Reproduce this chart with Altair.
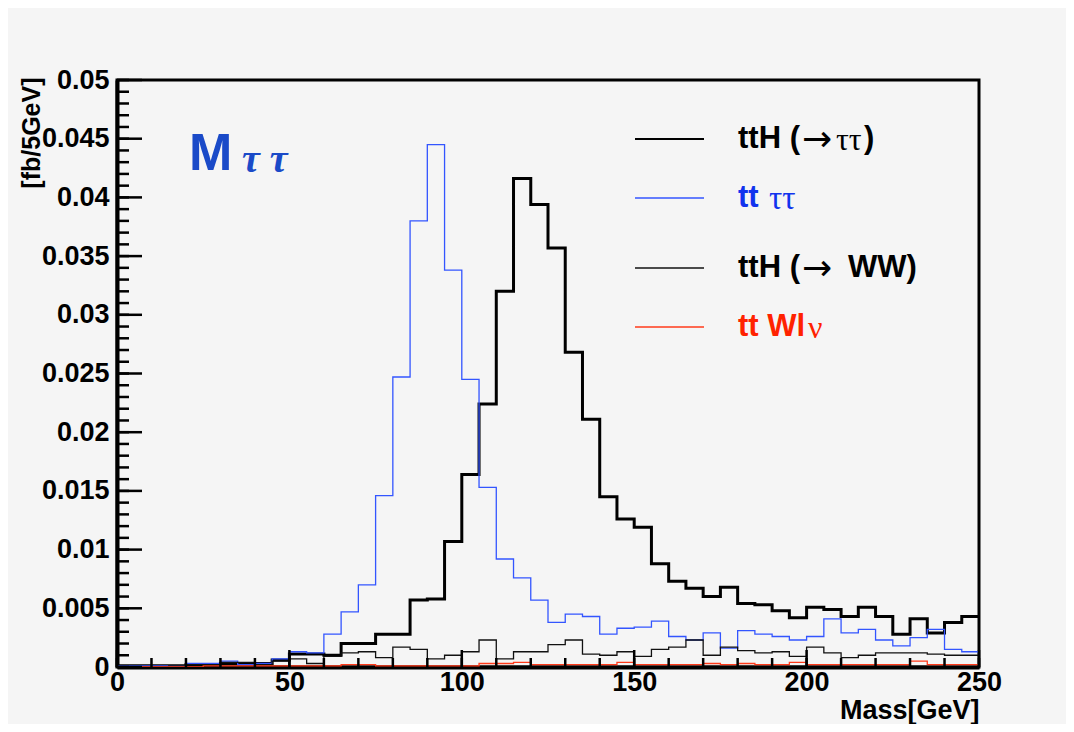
import altair as alt
import pandas as pd

# ---------------- data (5 GeV bins, 0..250 GeV) ----------------
bin_lo = list(range(0, 250, 5))

tth_tautau = [0.0001, 0.0001, 0.0001, 0.0001, 0.0002, 0.0002, 0.0003, 0.0003, 0.0003, 0.0006,
              0.0011, 0.0011, 0.0010, 0.0020, 0.0020, 0.0028, 0.0028, 0.0057, 0.0058, 0.0107,
              0.0164, 0.0224, 0.0320, 0.0416, 0.0394, 0.0357, 0.0268, 0.0211, 0.0145, 0.0126,
              0.0119, 0.0088, 0.0073, 0.0067, 0.0060, 0.0068, 0.0054, 0.0053, 0.0048, 0.0042,
              0.0051, 0.0049, 0.0043, 0.0051, 0.0043, 0.0028, 0.0041, 0.0029, 0.0038, 0.0043]

tt_tautau = [0.0001, 0.0001, 0.0001, 0.0001, 0.0003, 0.0003, 0.0005, 0.0002, 0.0003, 0.0007,
             0.0013, 0.0012, 0.0028, 0.0047, 0.0070, 0.0146, 0.0247, 0.0380, 0.0445, 0.0338,
             0.0245, 0.0153, 0.0092, 0.0076, 0.0057, 0.0038, 0.0045, 0.0043, 0.0028, 0.0033,
             0.0034, 0.0039, 0.0026, 0.0023, 0.0029, 0.0016, 0.0031, 0.0028, 0.0026, 0.0023,
             0.0026, 0.0041, 0.0029, 0.0032, 0.0023, 0.0018, 0.0025, 0.0032, 0.0015, 0.0013]

tth_ww = [0.0000, 0.0000, 0.0000, 0.0001, 0.0002, 0.0002, 0.0004, 0.0004, 0.0002, 0.0005,
          0.0007, 0.0003, 0.0009, 0.0012, 0.0013, 0.0008, 0.0017, 0.0015, 0.0007, 0.0010,
          0.0013, 0.0023, 0.0007, 0.0013, 0.0013, 0.0019, 0.0023, 0.0011, 0.0010, 0.0013,
          0.0009, 0.0015, 0.0017, 0.0023, 0.0010, 0.0017, 0.0014, 0.0012, 0.0013, 0.0009,
          0.0017, 0.0012, 0.0008, 0.0010, 0.0012, 0.0012, 0.0012, 0.0011, 0.0010, 0.0010]

tt_wlnu = [0.0000, 0.0000, 0.0000, 0.0000, 0.0000, 0.0001, 0.0001, 0.0001, 0.0001, 0.0001,
           0.0001, 0.0001, 0.0001, 0.0002, 0.0002, 0.0001, 0.0001, 0.0001, 0.0001, 0.0001,
           0.0001, 0.0003, 0.0003, 0.0004, 0.0002, 0.0002, 0.0002, 0.0002, 0.0002, 0.0004,
           0.0002, 0.0002, 0.0002, 0.0002, 0.0003, 0.0002, 0.0003, 0.0002, 0.0002, 0.0004,
           0.0002, 0.0002, 0.0002, 0.0002, 0.0002, 0.0002, 0.0005, 0.0002, 0.0002, 0.0002]

x_major = [0, 50, 100, 150, 200, 250]
x_minor = list(range(0, 251, 10))
y_major = [0, 0.005, 0.01, 0.015, 0.02, 0.025, 0.03, 0.035, 0.04, 0.045, 0.05]
y_minor = [round(0.001 * i, 3) for i in range(0, 51)]

x_title = "Mass[GeV]"
y_title = "[fb/5GeV]"

# ---------------- layout ----------------
W, H = 862, 587
SANS = "Liberation Sans"
SERIF = "Liberation Serif"

xscale = alt.Scale(domain=[0, 250], nice=False, zero=False)
yscale = alt.Scale(domain=[0, 0.05], nice=False)

XAXIS = alt.Axis(
    values=x_major, ticks=False, grid=False, domain=True, domainColor="black",
    domainWidth=4, labelFont=SANS, labelFontWeight="bold", labelFontSize=27,
    labelColor="black", labelPadding=2, labelFlush=False,
    title=x_title, titleFont=SANS, titleFontWeight="bold", titleFontSize=27,
    titleColor="black", titleX=W, titleY=51, titleAlign="right",
    titleBaseline="alphabetic", titleAnchor="end")
YAXIS = alt.Axis(
    values=y_major, format="~g", ticks=False, grid=False, domain=True,
    domainColor="black", domainWidth=4, labelFont=SANS, labelFontWeight="bold",
    labelFontSize=27, labelColor="black", labelPadding=8, labelFlush=False,
    title=y_title, titleFont=SANS, titleFontWeight="bold", titleFontSize=25,
    titleColor="black", titleX=-86, titleY=-3, titleAngle=270,
    titleAlign="right", titleBaseline="middle")


def step_df(vals):
    return pd.DataFrame({"mass": bin_lo + [250], "val": vals + [vals[-1]]})


def hist(vals, color, width):
    return alt.Chart(step_df(vals)).mark_line(
        interpolate="step-after", color=color, strokeWidth=width,
        strokeJoin="miter", clip=True).encode(
        x=alt.X("mass:Q", scale=xscale, axis=XAXIS),
        y=alt.Y("val:Q", scale=yscale, axis=YAXIS))


def xticks(vals, length):
    return alt.Chart(pd.DataFrame({"mass": vals})).mark_rule(
        color="black", strokeWidth=2.5).encode(
        x=alt.X("mass:Q", scale=xscale, axis=XAXIS), y=alt.value(H), y2=alt.value(H - length))


def yticks(vals, length):
    return alt.Chart(pd.DataFrame({"val": vals})).mark_rule(
        color="black", strokeWidth=2.5).encode(
        y=alt.Y("val:Q", scale=yscale, axis=YAXIS), x=alt.value(0), x2=alt.value(length))


def txt(s, x, y, size, color, font=SANS, weight="bold", style="normal"):
    return alt.Chart(pd.DataFrame({"t": [s]})).mark_text(
        align="left", baseline="middle", font=font, fontSize=size, fontWeight=weight,
        fontStyle=style, color=color).encode(text="t:N", x=alt.value(x), y=alt.value(y))


def legline(y, color, width):
    return alt.Chart(pd.DataFrame({"t": [0]})).mark_rule(
        color=color, strokeWidth=width).encode(x=alt.value(518), x2=alt.value(587), y=alt.value(y))


BLUE_LINE = "#3355ff"
BLUE_TXT = "#1133ee"
RED_LINE = "#ff3a1a"
RED_TXT = "#ff2200"
TITLE_BLUE = "#1a4ac8"
ARROW = "DejaVu Sans"

layers = [
    hist(tth_tautau, "black", 3),
    hist(tt_tautau, BLUE_LINE, 1.3),
    hist(tth_ww, "#111111", 1.3),
    hist(tt_wlnu, RED_LINE, 1.3),
    xticks(x_minor, 9), xticks(x_major, 17),
    yticks(y_minor, 12), yticks(y_major, 25),
    # title
    alt.Chart(pd.DataFrame({"t": ["M"]})).mark_text(
        align="left", baseline="alphabetic", font=SANS, fontSize=52, fontWeight="bold",
        color=TITLE_BLUE).encode(text="t:N", x=alt.value(72), y=alt.value(90)),
    alt.Chart(pd.DataFrame({"t": ["τ τ"]})).mark_text(
        align="left", baseline="alphabetic", font=SERIF, fontSize=40, fontWeight="bold",
        fontStyle="italic", color=TITLE_BLUE).encode(text="t:N", x=alt.value(125), y=alt.value(92)),
    # legend
    legline(59, "black", 2.2),
    txt("ttH (", 621, 59, 31, "black"),
    txt("→", 685, 60, 36, "black", font=ARROW, weight="normal"),
    txt("ττ", 719, 60, 32, "black", font=SERIF, weight="normal"),
    txt(")", 747, 59, 31, "black"),
    legline(118, BLUE_LINE, 1.3),
    txt("tt", 621, 118, 31, BLUE_TXT),
    txt("ττ", 652, 119, 33, BLUE_TXT, font=SERIF, weight="normal"),
    legline(188, "#111111", 1.3),
    txt("ttH (", 621, 188, 31, "black"),
    txt("→", 685, 189, 36, "black", font=ARROW, weight="normal"),
    txt("WW)", 731, 188, 31, "black"),
    legline(247, RED_LINE, 1.3),
    txt("tt Wl", 621, 247, 31, RED_TXT),
    txt("ν", 691, 248, 32, RED_TXT, font=SERIF, weight="normal"),
]

chart = alt.layer(*layers).properties(
    width=W, height=H,
    autosize=alt.AutoSizeParams(type="none"),
    padding={"left": 109, "top": 72, "right": 87, "bottom": 57},
    background="#f5f5f5",
).configure_view(stroke="black", strokeWidth=3)

chart.save("out.html", embed_options={"renderer": "svg", "actions": False})
